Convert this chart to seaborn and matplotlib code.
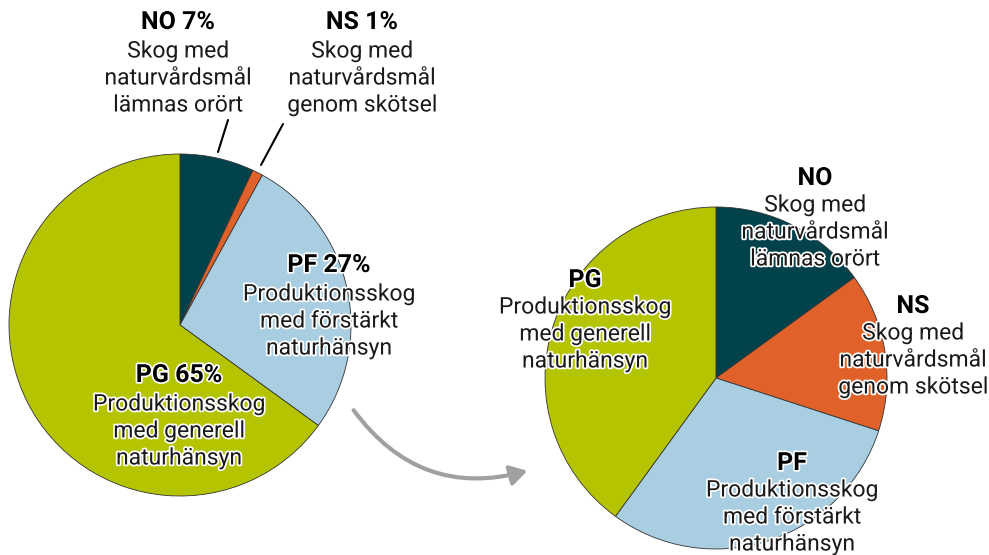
import matplotlib.pyplot as plt
import matplotlib.patheffects as pe
from matplotlib.patches import FancyArrowPatch
import seaborn as sns

# ---- data ----
codes = ["NO", "NS", "PF", "PG"]
left_share = [7, 1, 27, 65]
right_share = [15, 15, 30, 40]
descriptions = [
    ["Skog med", "naturvårdsmål", "lämnas orört"],
    ["Skog med", "naturvårdsmål", "genom skötsel"],
    ["Produktionsskog", "med förstärkt", "naturhänsyn"],
    ["Produktionsskog", "med generell", "naturhänsyn"],
]
colors = ["#02424a", "#e0622a", "#a9cde1", "#b5c401"]

sns.set_theme(style="white")
plt.rcParams["font.family"] = ["Roboto", "DejaVu Sans"]

W, H = 989, 555
fig = plt.figure(figsize=(W / 100, H / 100), dpi=100)


def pie_axes(cx, cy, r):
    # pixel centre/radius -> figure fraction box
    return fig.add_axes([(cx - r) / W, (H - cy - r) / H, 2 * r / W, 2 * r / H])


wedge_style = dict(edgecolor="#333333", linewidth=0.6)
for (cx, cy, r), share in [((180, 325, 171), left_share), ((716, 378, 171), right_share)]:
    ax = pie_axes(cx, cy, r)
    ax.pie(share, colors=colors, startangle=90, counterclock=False,
           wedgeprops=wedge_style, radius=1)
    ax.set_xlim(-1, 1)
    ax.set_ylim(-1, 1)
    ax.set_aspect("equal")
    ax.axis("off")

# overlay in pixel coordinates for labels and arrow
ov = fig.add_axes([0, 0, 1, 1])
ov.set_xlim(0, W)
ov.set_ylim(H, 0)
ov.axis("off")
ov.patch.set_alpha(0)

halo = [pe.withStroke(linewidth=2.5, foreground="white")]
fs_head = 18
fs_body = 16.5


def label(x, y, head, body, gap=29):
    ov.text(x, y, head, ha="center", va="center", fontsize=fs_head, fontweight="bold",
            color="black", path_effects=halo)
    for k, line in enumerate(body):
        ov.text(x, y + gap + 27 * k, line, ha="center", va="center", fontsize=fs_body,
                color="#1a1a1a", path_effects=halo)


left_pos = [(178, 22), (362, 22), (329, 265), (179, 375)]
right_pos = [(815, 178), (913, 306), (792, 463), (585, 280)]
for i in range(4):
    label(*left_pos[i], f"{codes[i]} {left_share[i]}%", descriptions[i])
    label(*right_pos[i], codes[i], descriptions[i], gap=27)

# leader lines for the small slices
ov.plot([228, 218], [120, 152], color="black", lw=1.5)
ov.plot([283, 261], [124, 165], color="black", lw=1.5)

arrow = FancyArrowPatch((352, 408), (530, 470), connectionstyle="arc3,rad=0.35",
                        arrowstyle="-|>,head_length=10,head_width=6",
                        color="#a0a0a0", lw=3, mutation_scale=1)
ov.add_patch(arrow)

fig.savefig("out.png", dpi=100)
